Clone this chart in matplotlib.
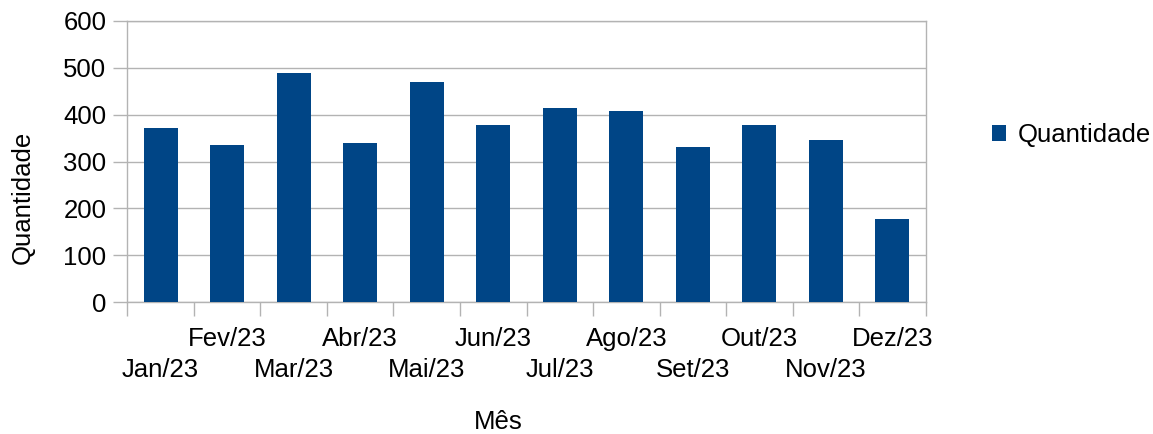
import matplotlib
matplotlib.use("Agg")
import matplotlib.pyplot as plt
import numpy as np

meses = ["Jan/23", "Fev/23", "Mar/23", "Abr/23", "Mai/23", "Jun/23",
         "Jul/23", "Ago/23", "Set/23", "Out/23", "Nov/23", "Dez/23"]
quantidade = [371, 335, 489, 339, 469, 378, 414, 408, 331, 378, 346, 178]
yticks = [0, 100, 200, 300, 400, 500, 600]

plt.rcParams['font.family'] = ['Liberation Sans', 'DejaVu Sans']
FS = 18.5
GRAY = '#b3b3b3'
BLUE = '#004586'

W, H = 1153, 434
fig = plt.figure(figsize=(W / 100, H / 100), dpi=100)
ax = fig.add_axes([127.3 / W, 1 - 302.3 / H, (925.7 - 127.3) / W, (302.3 - 20.7) / H])

x = np.arange(len(meses))
bars = ax.bar(x, quantidade, width=0.51, color=BLUE, label='Quantidade', zorder=3)

ax.set_xlim(-0.5, len(meses) - 0.5)
ax.set_ylim(0, 600)
ax.set_yticks(yticks)
ax.set_yticklabels([str(v) for v in yticks], fontsize=FS)
ax.yaxis.grid(True, color=GRAY, linewidth=1, zorder=0)

ax.set_xticks(np.arange(-0.5, len(meses) + 0.5, 1.0))
ax.set_xticklabels([])
ax.set_xticks(x, minor=True)
ax.set_xticklabels(meses, minor=True, fontsize=FS)
ax.tick_params(axis='x', which='major', length=10, width=1, color=GRAY)
ax.tick_params(axis='x', which='minor', length=0)
ax.tick_params(axis='y', which='major', length=10, width=1, color=GRAY, pad=5)
for i, t in enumerate(ax.xaxis.get_minor_ticks()):
    t.set_pad(40 if i % 2 == 0 else 17.5)

for s in ax.spines.values():
    s.set_color(GRAY)
    s.set_linewidth(1)

fig.text(22.5 / W, 1 - 197 / H, 'Quantidade', rotation=90, ha='center', va='center', fontsize=FS)
fig.text(498.7 / W, 1 - 429 / H, 'Mês', ha='center', va='baseline', fontsize=FS)

fig.legend(handles=[bars], labels=['Quantidade'], loc='center left',
           bbox_to_anchor=(992 / W, 1 - 135 / H), frameon=False, fontsize=FS,
           handlelength=0.55, handleheight=0.55, handletextpad=0.45,
           borderpad=0, borderaxespad=0)

fig.savefig('out.png', dpi=100)
